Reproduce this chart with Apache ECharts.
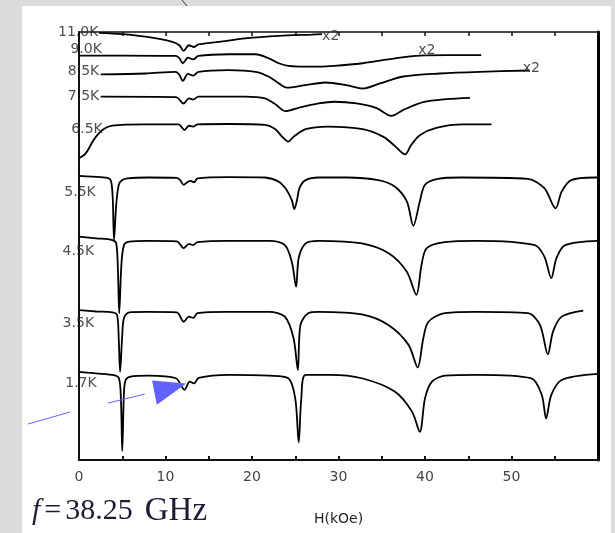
<!DOCTYPE html>
<html><head><meta charset="utf-8">
<script src="https://cdn.jsdelivr.net/npm/echarts@6/dist/echarts.min.js"></script>
<style>
html,body{margin:0;padding:0;background:#dcdcdc;width:615px;height:533px;overflow:hidden;}
#panel{position:absolute;left:22px;top:6px;width:589px;height:527px;background:#ffffff;}
#chart{position:absolute;left:0;top:0;width:615px;height:533px;}
</style></head>
<body><div id="panel"></div><div id="chart"></div>
<script>
// ---- data (H in kOe, signal in arbitrary units, curves offset vertically) ----
const temperatures = ['11.0K','9.0K','8.5K','7.5K','6.5K','5.5K','4.5K','3.5K','1.7K'];
const xTickLabels = [0,10,20,30,40,50];
const scaleNotes = ['x2','x2','x2'];
const axisTitle = 'H(kOe)';

const curve_11_0K = [[2.3,99.8],[5,99.5],[7.7,98.9],[10.8,97.7],[11.6,96.9],[12.1,95.6],[12.7,96.9],[13.3,96.5],[13.8,97.1],[16.2,97.7],[19.2,98.5],[23.1,99.1],[26.9,99.4],[28.1,99.5]];
const curve_9_0K = [[0,94.5],[5,94.5],[11.2,94.4],[11.6,93.9],[12.0,92.7],[12.6,94.0],[13.2,93.6],[13.8,94.4],[17.3,94.8],[20.4,94.8],[21.9,93.9],[23.1,92.7],[24.2,92.1],[26.9,91.9],[29.5,92.1],[32.8,92.7],[36.7,93.9],[39.4,94.5],[42.5,94.6],[46.5,94.6]];
const curve_8_5K = [[2.5,90.1],[7.7,90.3],[11.2,90.7],[11.6,90.0],[12.0,88.6],[12.6,90.2],[13.2,89.8],[13.8,90.7],[17.3,91.1],[20.4,90.7],[21.9,89.6],[23.1,88.0],[24.0,87.0],[26.2,87.6],[28.5,88.2],[30.9,87.6],[32.8,86.8],[34.8,88.0],[37.5,89.6],[41.7,90.3],[46.3,90.7],[52.1,91.0]];
const curve_7_5K = [[2.5,84.9],[11.2,84.8],[12.1,83.3],[12.7,84.5],[13.2,84.2],[13.8,84.9],[19.2,84.9],[21.5,84.5],[22.7,83.1],[23.9,81.5],[25.4,82.3],[27.7,83.3],[29.5,83.7],[32.1,83.3],[34.4,82.2],[36.1,80.4],[37.5,81.8],[39.8,83.6],[42.5,84.3],[45.2,84.6]];
const curve_6_5K = [[0,70.5],[0.8,71.7],[1.7,74.8],[2.7,77.1],[3.85,78.1],[7.7,78.4],[11.5,78.4],[12.2,77.1],[12.7,78.1],[13.2,77.9],[13.7,78.4],[17.3,78.5],[21.5,78.3],[22.7,77.3],[23.5,75.5],[24.2,74.4],[24.8,75.5],[26.2,77.3],[28.8,77.9],[32.8,77.3],[35.2,75.5],[36.5,73.4],[37.7,71.4],[38.4,73.6],[39.4,75.9],[41.3,77.6],[44.4,78.4],[47.7,78.4]];
const curve_5_5K = [[0,66.4],[1.5,66.2],[3.3,65.9],[3.7,65.2],[3.9,61.2],[4.05,51.4],[4.3,59.6],[4.6,64.3],[5.0,65.4],[5.6,65.8],[8,66.0],[11.3,65.9],[11.7,65.4],[12.1,64.3],[12.6,65.0],[12.9,65.2],[13.3,64.9],[13.7,65.8],[17.3,66.1],[21.5,66.0],[23.1,65.0],[24.0,63.1],[24.6,60.7],[24.9,58.6],[25.2,60.7],[25.5,63.6],[26.2,65.4],[27.7,66.0],[31,66.0],[34.6,65.4],[36.5,63.9],[37.9,60.4],[38.65,54.7],[39.4,60.4],[40,64.3],[41.5,65.7],[44.2,66.0],[51.9,65.7],[53.8,63.5],[55.1,58.8],[55.8,62.7],[56.9,65.4],[59.6,66.0],[60,66.0]];
const curve_4_5K = [[0,52.2],[2,51.8],[3.85,51.4],[4.3,50.7],[4.5,44.4],[4.65,34.3],[4.9,45.6],[5.2,50.2],[5.8,51.0],[8,51.2],[11.3,51.1],[12.1,49.5],[12.7,50.5],[13.2,50.2],[13.7,50.9],[17.3,51.2],[22,51.2],[23.8,50.2],[24.6,46.3],[25.1,40.5],[25.4,47.2],[26.2,50.6],[27.7,51.2],[32.7,50.6],[35.8,48.3],[37.9,44.0],[39,38.6],[39.6,45.6],[40.2,49.5],[42.3,50.9],[46,51.2],[52.7,50.2],[53.8,47.5],[54.6,42.5],[55.2,47.2],[56.2,50.2],[60,51.2]];
const curve_3_5K = [[0,35.0],[2,34.7],[3.85,34.5],[4.4,33.9],[4.6,28.0],[4.75,20.6],[5.0,29.2],[5.2,33.2],[5.8,34.5],[8,34.6],[11.3,34.5],[12.1,32.3],[12.7,33.5],[13.2,33.2],[13.7,34.3],[17,34.6],[22,34.6],[23.8,33.5],[24.8,28.5],[25.3,21.0],[25.6,31.5],[26.5,34.3],[27.7,34.6],[32.7,34.0],[35.8,31.5],[38.1,26.9],[39.15,21.6],[39.8,28.4],[40.4,32.3],[42.3,34.3],[46,34.6],[51.9,34.3],[53.3,31.5],[54.2,24.7],[54.8,30.0],[55.8,33.5],[58.3,34.9]];
const curve_1_7K = [[0,20.6],[1,20.4],[3.85,19.9],[4.6,19.2],[4.85,14.0],[5.0,2.1],[5.2,15.9],[5.4,18.7],[5.96,19.5],[8,19.7],[11.2,19.1],[12.2,16.4],[12.8,18.3],[13.3,17.9],[13.85,19.2],[17.3,19.9],[22,19.7],[24.2,19.1],[25.0,14.4],[25.4,4.1],[25.7,14.4],[26.2,19.9],[29,19.9],[32.7,19.1],[36.5,16.0],[38.5,11.3],[39.4,6.6],[40,14.4],[40.8,18.3],[42.3,19.7],[46,19.9],[52.3,19.1],[53.5,15.2],[54.0,9.7],[54.6,15.2],[55.8,18.7],[60,20.1]];

const curves = [curve_11_0K, curve_9_0K, curve_8_5K, curve_7_5K, curve_6_5K, curve_5_5K, curve_4_5K, curve_3_5K, curve_1_7K];

// ---- presentation ----
const labelAnchors = [[2.3,100],[2.7,95.9],[2.4,90.8],[2.4,85.0],[2.8,77.3],[2.0,62.6],[1.8,48.8],[1.8,32.0],[2.1,17.8]];
const noteAnchors = [[29.1,98.9],[40.2,95.7],[52.3,91.4]];
const sansFont = 'DejaVu Sans';
const serif = 'Liberation Serif';
const capColor = '#1c1c34';

const chart = echarts.init(document.getElementById('chart'), null, {renderer:'canvas'});

const lineSeries = curves.map((d, i) => ({
  type: 'line', name: temperatures[i], data: d,
  symbol: 'none', showSymbol: false, smooth: 0.3, silent: true,
  lineStyle: {color: '#000', width: 1.8}, z: 3, animation: false
}));

const tempLabelSeries = {
  type: 'scatter', silent: true, animation: false, z: 5,
  symbolSize: 1, itemStyle: {color: 'rgba(0,0,0,0)'},
  data: temperatures.map((t, i) => ({name: t, value: labelAnchors[i]})),
  label: {show: true, position: 'left', distance: 0, formatter: '{b}',
    fontFamily: sansFont, fontSize: 14, color: '#222'}
};
const noteSeries = {
  type: 'scatter', silent: true, animation: false, z: 5,
  symbolSize: 1, itemStyle: {color: 'rgba(0,0,0,0)'},
  data: scaleNotes.map((t, i) => ({name: t, value: noteAnchors[i]})),
  label: {show: true, position: 'inside', formatter: '{b}',
    fontFamily: sansFont, fontSize: 14, color: '#222'}
};

const axisCommon = {
  type: 'value', min: 0, max: 60, interval: 5,
  splitLine: {show: false},
};

const richBase = {fontFamily: serif, fontSize: 30, fontWeight: 'normal', color: capColor};

chart.setOption({
  animation: false,
  backgroundColor: 'transparent',
  grid: {left: 79, right: 17, top: 32, bottom: 73, containLabel: false},
  title: {
    text: '{i|f}{eq|=}{n|38.25}{u|GHz}',
    left: 27, top: 490,
    textStyle: {
      fontWeight: 'normal',
      rich: {
        i: Object.assign({}, richBase, {fontStyle: 'italic'}),
        eq: Object.assign({}, richBase, {padding: [0, 4, 0, 4]}),
        n: Object.assign({}, richBase),
        u: Object.assign({}, richBase, {fontSize: 33, padding: [0, 0, 0, 12]})
      }
    }
  },
  xAxis: [
    Object.assign({}, axisCommon, {
      position: 'bottom',
      name: axisTitle, nameLocation: 'middle', nameGap: 52,
      nameTextStyle: {fontFamily: sansFont, fontSize: 14, color: '#222'},
      axisLine: {show: true, onZero: false, lineStyle: {color: '#111', width: 2}},
      axisTick: {show: true, inside: true, length: 4, lineStyle: {color: '#111', width: 2}},
      axisLabel: {show: true, margin: 10, fontFamily: sansFont, fontSize: 14, color: '#444',
        formatter: v => (xTickLabels.indexOf(v) >= 0 ? String(v) : '')}
    }),
    Object.assign({}, axisCommon, {
      position: 'top',
      axisLine: {show: true, onZero: false, lineStyle: {color: '#111', width: 1.5}},
      axisTick: {show: true, inside: true, length: 4, lineStyle: {color: '#111', width: 1.5}},
      axisLabel: {show: false}
    })
  ],
  yAxis: [
    {type: 'value', min: 0, max: 100, position: 'left',
      axisLine: {show: true, onZero: false, lineStyle: {color: '#111', width: 2}},
      axisTick: {show: false}, axisLabel: {show: false}, splitLine: {show: false}},
    {type: 'value', min: 0, max: 100, position: 'right',
      axisLine: {show: true, onZero: false, lineStyle: {color: '#000', width: 3}},
      axisTick: {show: false}, axisLabel: {show: false}, splitLine: {show: false}}
  ],
  series: lineSeries.concat([tempLabelSeries, noteSeries])
});

// annotation arrow (defined in data coordinates, converted to pixels)
const arrowSeg1 = [[-5.9, 8.4], [-1.05, 11.2]];
const arrowSeg2 = [[3.35, 13.3], [7.6, 15.4]];
const arrowHead = [[8.45, 18.6], [12.4, 17.9], [9.0, 12.9]];
const px = p => chart.convertToPixel({xAxisIndex: 0, yAxisIndex: 0}, p);
const blue = '#6262ff';
chart.setOption({
  graphic: [
    {type: 'line', shape: {x1: px(arrowSeg1[0])[0], y1: px(arrowSeg1[0])[1], x2: px(arrowSeg1[1])[0], y2: px(arrowSeg1[1])[1]},
      style: {stroke: blue, lineWidth: 1}, silent: true, z: 10},
    {type: 'line', shape: {x1: px(arrowSeg2[0])[0], y1: px(arrowSeg2[0])[1], x2: px(arrowSeg2[1])[0], y2: px(arrowSeg2[1])[1]},
      style: {stroke: blue, lineWidth: 1}, silent: true, z: 10},
    {type: 'polygon', shape: {points: arrowHead.map(px)}, style: {fill: blue}, silent: true, z: 10},
    {type: 'line', shape: {x1: 182, y1: 0, x2: 187, y2: 6}, style: {stroke: '#333', lineWidth: 1}, silent: true, z: 10}
  ]
});
</script>
</body></html>
